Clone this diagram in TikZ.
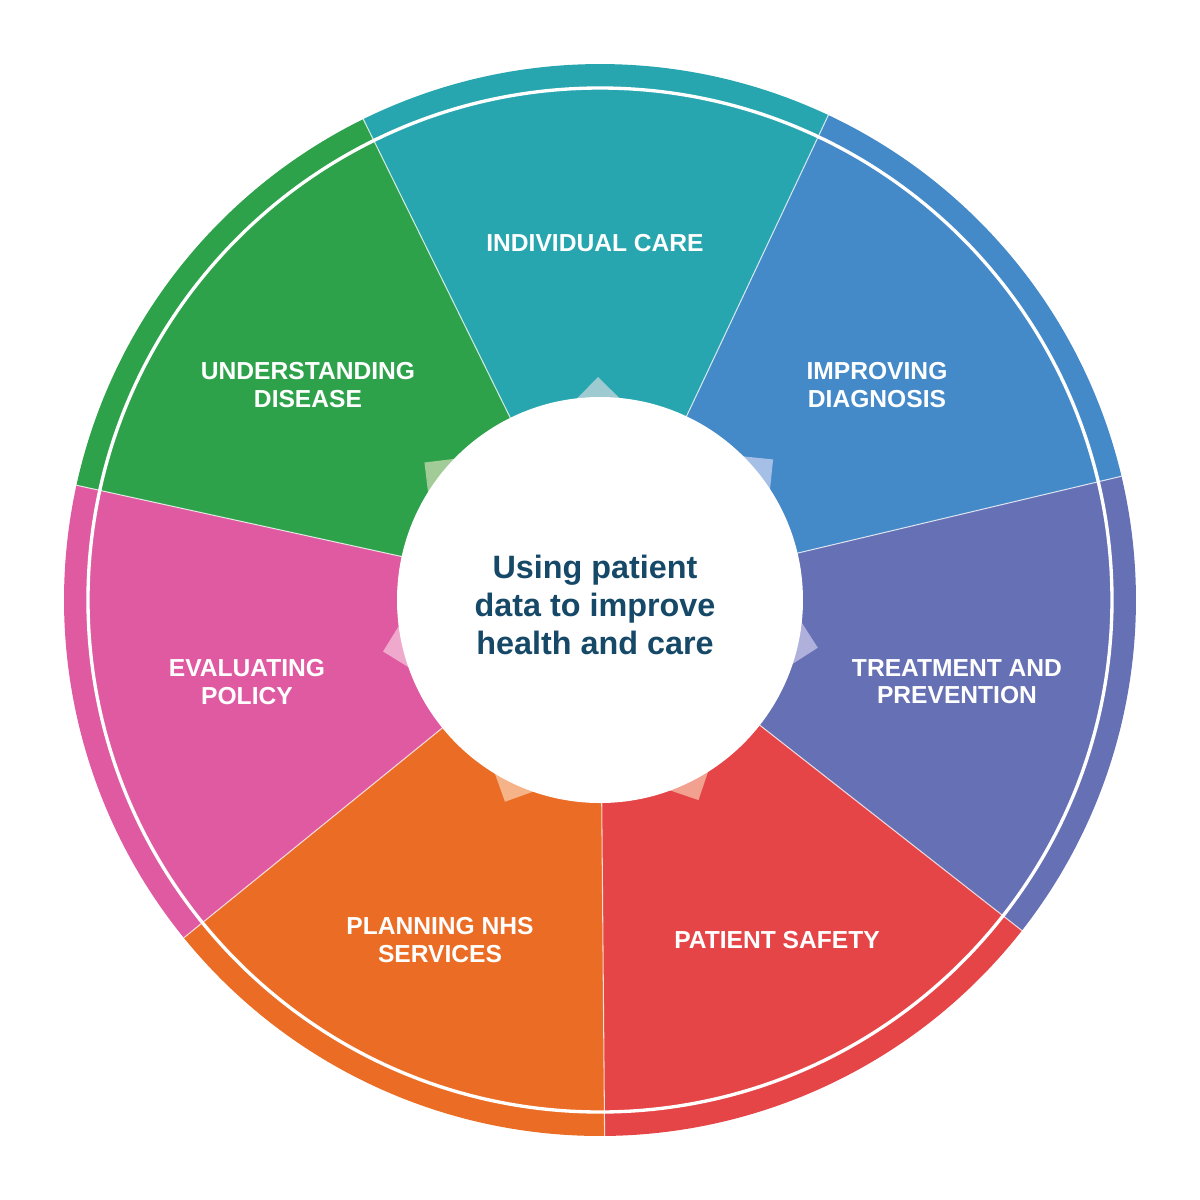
\documentclass[tikz,border=0pt]{standalone}
\usepackage{fontspec}
\setmainfont{Liberation Sans}
\usetikzlibrary{positioning}

\definecolor{careteal}{RGB}{39,166,175}
\definecolor{careblue}{RGB}{68,137,200}
\definecolor{carepurple}{RGB}{102,112,180}
\definecolor{carered}{RGB}{230,69,72}
\definecolor{careorange}{RGB}{235,108,36}
\definecolor{carepink}{RGB}{223,90,161}
\definecolor{caregreen}{RGB}{46,162,74}
\definecolor{tipteal}{RGB}{157,203,209}
\definecolor{tipblue}{RGB}{166,191,230}
\definecolor{tippurple}{RGB}{175,176,220}
\definecolor{tipred}{RGB}{242,160,143}
\definecolor{tiporange}{RGB}{247,179,136}
\definecolor{tippink}{RGB}{238,169,205}
\definecolor{tipgreen}{RGB}{161,204,152}
\definecolor{hubtext}{RGB}{22,72,104}

\begin{document}
\begin{tikzpicture}[
    segtext/.style={white, align=center, font=\bfseries\fontsize{7}{7.7}\selectfont},
    hub/.style={circle, fill=white, inner sep=0pt, minimum size=4.06cm},
    mottotext/.style={text=hubtext, align=center, font=\bfseries\fontsize{9.2}{10.8}\selectfont}
]

    \useasboundingbox (-6,-6) rectangle (6,6);

    % the seven slices, outer band included
    \foreach \i/\col in {0/careteal, 1/careblue, 2/carepurple, 3/carered,
                         4/careorange, 5/carepink, 6/caregreen} {
        \pgfmathsetmacro{\a}{116.21-\i*51.429}
        \pgfmathsetmacro{\b}{\a-51.429}
        \fill[\col] (0,0) -- (\a:5.36) arc[start angle=\a, end angle=\b, radius=5.36] -- cycle;
    }

    % thin dividers
    \foreach \i in {0,...,6} {
        \pgfmathsetmacro{\a}{116.21-\i*51.429}
        \draw[white, opacity=0.75, line width=0.3pt] (\a:2) -- (\a:5.36);
    }

    % ring line
    \draw[white, line width=0.95pt] (0,0) circle (5.12);

    % light tips peeking out from the hub
    \foreach \i/\col in {0/tipteal, 1/tipblue, 2/tippurple, 3/tipred,
                         4/tiporange, 5/tippink, 6/tipgreen} {
        \pgfmathsetmacro{\m}{90.5-\i*51.429}
        \fill[\col] (\m:2.23) -- ++(\m+135:0.42) -- ++(\m+225:0.42)
            -- ++(\m+315:0.42) -- cycle;
    }

    \node[hub] (centre) at (0,0) {};
    \node[mottotext] (motto) at (-0.05,-0.05) {Using patient\\data to improve\\health and care};

    \node[segtext] (care)      at (-0.05,3.57)  {INDIVIDUAL CARE};
    \node[segtext] (diagnosis) at (2.77,2.15)   {IMPROVING\\DIAGNOSIS};
    \node[segtext] (treatment) at (3.57,-0.82)  {TREATMENT AND\\PREVENTION};
    \node[segtext] (safety)    at (1.77,-3.40)  {PATIENT SAFETY};
    \node[segtext] (planning)  at (-1.60,-3.40) {PLANNING NHS\\SERVICES};
    \node[segtext] (policy)    at (-3.53,-0.82) {EVALUATING\\POLICY};
    \node[segtext] (disease)   at (-2.92,2.15)  {UNDERSTANDING\\DISEASE};

\end{tikzpicture}
\end{document}
